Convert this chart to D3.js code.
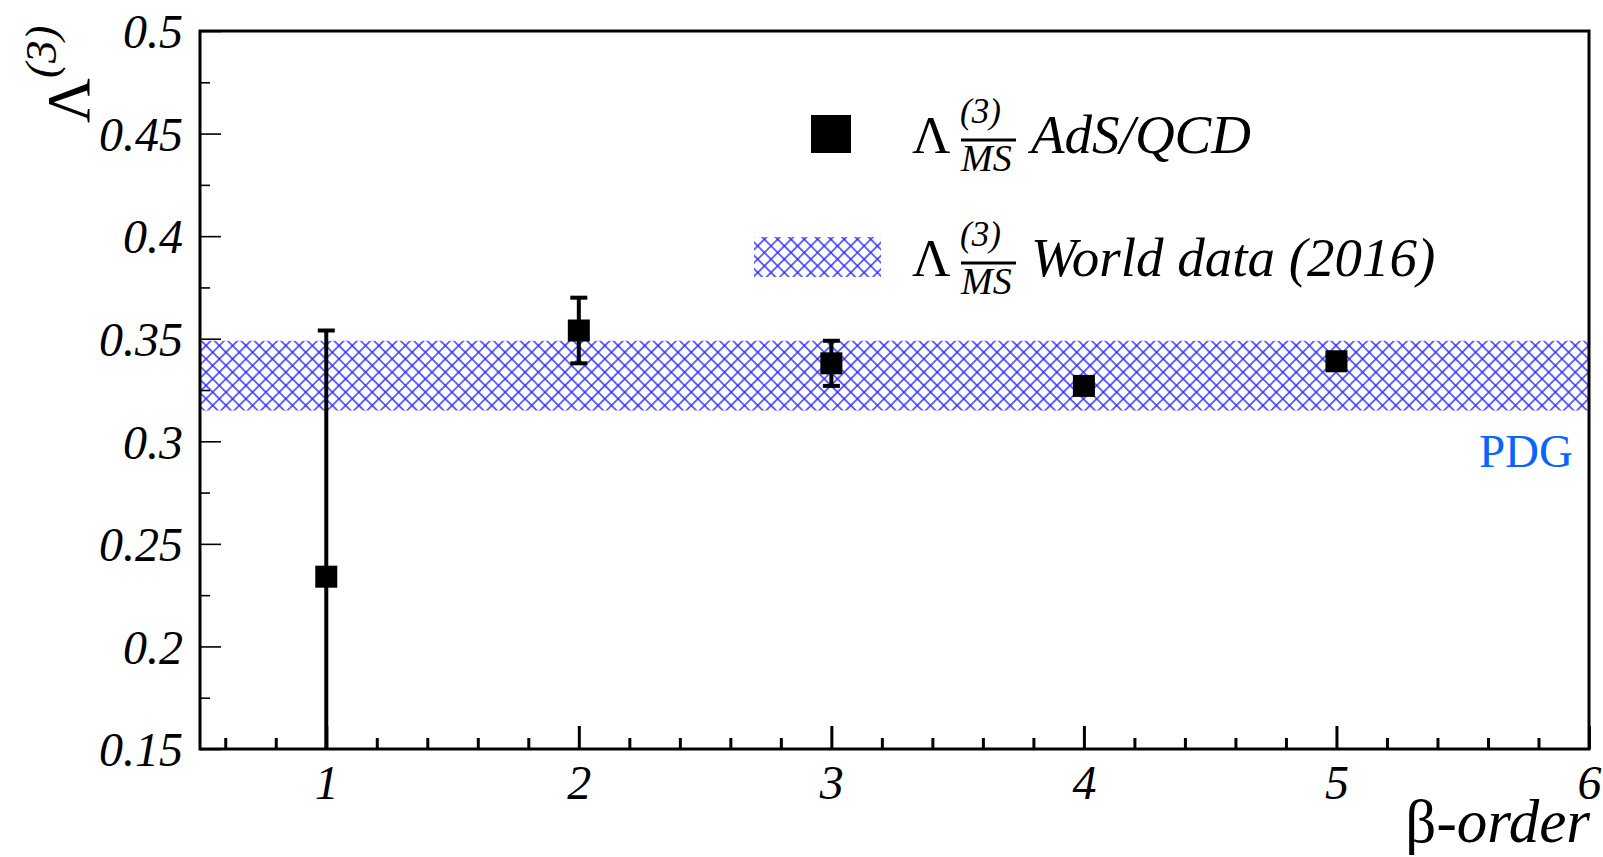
<!DOCTYPE html>
<html>
<head>
<meta charset="utf-8">
<script src="https://cdn.jsdelivr.net/npm/d3@7"></script>
<style>
  body { margin: 0; background: #fff; }
  svg { display: block; }
  text { font-family: "Liberation Serif", "Times New Roman", serif; }
</style>
</head>
<body>
<svg id="chart" width="1603" height="857"></svg>
<script>
// data
const orders = [1, 2, 3, 4, 5];
const lambdaValues = [0.234, 0.354, 0.338, 0.327, 0.339];
const lambdaErrors = [0.12, 0.016, 0.011, 0.004, 0.003];
const worldBand = [0.315, 0.349];

const xDomain = [0.5, 6];
const yDomain = [0.15, 0.5];
const xMajorTicks = [1, 2, 3, 4, 5, 6];
const xTickLabels = ["1", "2", "3", "4", "5", "6"];
const yMajorTicks = [0.15, 0.2, 0.25, 0.3, 0.35, 0.4, 0.45, 0.5];
const yTickLabels = ["0.15", "0.2", "0.25", "0.3", "0.35", "0.4", "0.45", "0.5"];
const yMinorTicks = [0.175, 0.225, 0.275, 0.325, 0.375, 0.425, 0.475];

const svg = d3.select("#chart");
const frame = { left: 200, right: 1589, top: 31, bottom: 749 };

const x = d3.scaleLinear().domain(xDomain).range([frame.left, frame.right]);
const y = d3.scaleLinear().domain(yDomain).range([frame.bottom, frame.top]);

const defs = svg.append("defs");
const hatch = defs.append("pattern")
  .attr("id", "xhatch")
  .attr("patternUnits", "userSpaceOnUse")
  .attr("width", 9.4)
  .attr("height", 9.4)
  .attr("patternTransform", "rotate(45)");
hatch.append("path")
  .attr("d", "M0,4.7H9.4M4.7,0V9.4")
  .attr("stroke", "#2a2aff")
  .attr("stroke-width", 1.4);

defs.append("clipPath").attr("id", "plot")
  .append("rect")
  .attr("x", frame.left).attr("y", frame.top)
  .attr("width", frame.right - frame.left).attr("height", frame.bottom - frame.top);

const plot = svg.append("g").attr("clip-path", "url(#plot)");

// PDG band
plot.append("rect")
  .attr("x", x(xDomain[0]))
  .attr("width", x(xDomain[1]) - x(xDomain[0]))
  .attr("y", y(worldBand[1]))
  .attr("height", y(worldBand[0]) - y(worldBand[1]))
  .attr("fill", "url(#xhatch)");

const points = orders.map((o, i) => ({ o, v: lambdaValues[i], e: lambdaErrors[i] }));
const half = 11;

// error bars (only where they stick out of the marker)
const capped = points.filter(d => y(d.v - d.e) - y(d.v + d.e) > 2 * half);
const err = plot.append("g").attr("stroke", "#000");
err.selectAll("line.bar")
  .data(capped)
  .join("line")
  .attr("x1", d => x(d.o)).attr("x2", d => x(d.o))
  .attr("y1", d => y(d.v + d.e)).attr("y2", d => y(d.v - d.e))
  .attr("stroke-width", 4);
err.selectAll("line.cap")
  .data(capped.flatMap(d => [d.v + d.e, d.v - d.e].map(v => ({ o: d.o, v }))))
  .join("line")
  .attr("x1", d => x(d.o) - 8.5).attr("x2", d => x(d.o) + 8.5)
  .attr("y1", d => y(d.v)).attr("y2", d => y(d.v))
  .attr("stroke-width", 4);

// markers
plot.selectAll("rect.marker")
  .data(points)
  .join("rect")
  .attr("x", d => x(d.o) - half)
  .attr("y", d => y(d.v) - half)
  .attr("width", 2 * half)
  .attr("height", 2 * half)
  .attr("fill", "#000");

// axes
const tickFont = g => g.selectAll("text")
  .attr("font-style", "italic")
  .attr("font-size", 48)
  .attr("fill", "#000");

const yAxis = svg.append("g")
  .attr("transform", `translate(${frame.left},0)`)
  .call(d3.axisLeft(y).tickValues(yMajorTicks).tickSize(-21).tickPadding(17)
    .tickFormat((d, i) => yTickLabels[i]))
  .call(g => g.select(".domain").remove())
  .call(tickFont);
yAxis.selectAll("line").attr("stroke-width", 1.6);
yAxis.selectAll("text").attr("dy", "0.35em");

svg.append("g")
  .attr("transform", `translate(${frame.left},0)`)
  .call(d3.axisLeft(y).tickValues(yMinorTicks).tickSize(-10).tickFormat(""))
  .call(g => g.select(".domain").remove())
  .selectAll("line").attr("stroke-width", 1.6);

const xAxis = svg.append("g")
  .attr("transform", `translate(0,${frame.bottom})`)
  .call(d3.axisBottom(x).tickValues(xMajorTicks).tickSize(-23).tickPadding(16)
    .tickFormat((d, i) => xTickLabels[i]))
  .call(g => g.select(".domain").remove())
  .call(tickFont);
xAxis.selectAll("line").attr("stroke-width", 3);

svg.append("g")
  .attr("transform", `translate(0,${frame.bottom})`)
  .call(d3.axisBottom(x).tickValues(x.ticks(30).filter(t => Math.abs(t - Math.round(t)) > 1e-6))
    .tickSize(-11).tickFormat(""))
  .call(g => g.select(".domain").remove())
  .selectAll("line").attr("stroke-width", 3);

// frame
svg.append("rect")
  .attr("x", frame.left).attr("y", frame.top)
  .attr("width", frame.right - frame.left).attr("height", frame.bottom - frame.top)
  .attr("fill", "none")
  .attr("stroke", "#000")
  .attr("stroke-width", 3);

// axis titles
const yTitle = svg.append("text")
  .attr("transform", "translate(89,123) rotate(-90)")
  .attr("font-size", 62);
yTitle.append("tspan").text("Λ");
yTitle.append("tspan").attr("font-size", 45).attr("font-style", "italic").attr("dy", -33).text("(3)");

const xTitle = svg.append("text")
  .attr("x", 1590).attr("y", 842)
  .attr("text-anchor", "end")
  .attr("font-size", 61);
xTitle.append("tspan").text("β-");
xTitle.append("tspan").attr("font-style", "italic").text("order");

// PDG label
svg.append("text")
  .attr("x", 1573).attr("y", 467)
  .attr("text-anchor", "end")
  .attr("font-size", 47)
  .attr("fill", "#0a64ff")
  .text("PDG");

// legend
const legendRows = [
  { label: "AdS/QCD", base: 153 },
  { label: "World data (2016)", base: 276 }
];
const legend = svg.append("g");
legend.append("rect")
  .attr("x", 811).attr("y", legendRows[0].base - 38)
  .attr("width", 40).attr("height", 38)
  .attr("fill", "#000");
legend.append("rect")
  .attr("x", 754).attr("y", legendRows[1].base - 39)
  .attr("width", 127).attr("height", 40)
  .attr("fill", "url(#xhatch)");

legendRows.forEach(r => {
  const g = legend.append("g");
  g.append("text").attr("x", 912).attr("y", r.base).attr("font-size", 53).text("Λ");
  g.append("text").attr("x", 960).attr("y", r.base - 30)
    .attr("font-size", 35).attr("font-style", "italic").text("(3)");
  g.append("text").attr("x", 961).attr("y", r.base + 18)
    .attr("font-size", 38).attr("font-style", "italic").text("MS");
  g.append("line")
    .attr("x1", 961).attr("x2", 1016)
    .attr("y1", r.base - 13).attr("y2", r.base - 13)
    .attr("stroke", "#000").attr("stroke-width", 3);
  g.append("text").attr("x", 1031).attr("y", r.base)
    .attr("font-size", 55).attr("font-style", "italic").text(r.label);
});
</script>
</body>
</html>
